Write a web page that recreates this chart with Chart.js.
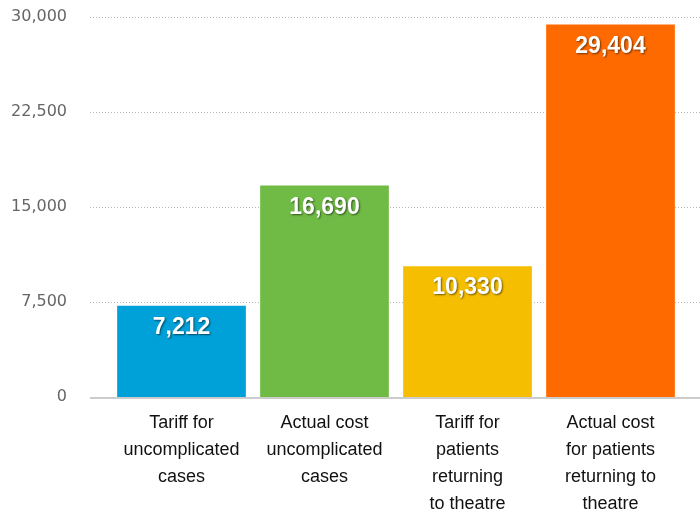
<!DOCTYPE html>
<html>
<head>
<meta charset="utf-8">
<script src="https://cdn.jsdelivr.net/npm/chart.js@4"></script>
<style>
    body { margin: 0; background: #fff; }
</style>
</head>
<body>
<canvas id="grafico" width="700" height="516"></canvas>
<script>
const categorias = [
    ['Tariff for', 'uncomplicated', 'cases'],
    ['Actual cost', 'uncomplicated', 'cases'],
    ['Tariff for', 'patients', 'returning', 'to theatre'],
    ['Actual cost', 'for patients', 'returning to', 'theatre']
];
const valores = [7212, 16690, 10330, 29404];
const cores = ['#00a0d8', '#70bb45', '#f5be00', '#ff6a00'];
const ticksY = [0, 7500, 15000, 22500, 30000];

// linhas de grade pontilhadas que passam um pouco além da área das barras
const gradePlugin = {
    id: 'grade',
    beforeDatasetsDraw(chart) {
        const ctx = chart.ctx;
        const y = chart.scales.y;
        const esq = chart.chartArea.left - 20;
        const dir = chart.width;
        ctx.save();
        ctx.strokeStyle = '#b8b8b8';
        ctx.lineWidth = 1;
        ctx.setLineDash([1, 2]);
        ticksY.forEach(v => {
            if (v === 0) return;
            const py = Math.round(y.getPixelForValue(v)) + 0.5;
            ctx.beginPath();
            ctx.moveTo(esq, py);
            ctx.lineTo(dir, py);
            ctx.stroke();
        });
        ctx.restore();
    },
    afterDatasetsDraw(chart) {
        const ctx = chart.ctx;
        const y = chart.scales.y;
        const py = y.getPixelForValue(0) + 1;
        ctx.save();
        ctx.strokeStyle = '#cccccc';
        ctx.lineWidth = 2;
        ctx.beginPath();
        ctx.moveTo(chart.chartArea.left - 20, py);
        ctx.lineTo(chart.width, py);
        ctx.stroke();
        ctx.restore();
    }
};

// rótulos brancos dentro das barras
const rotulosPlugin = {
    id: 'rotulos',
    afterDatasetsDraw(chart) {
        const ctx = chart.ctx;
        const meta = chart.getDatasetMeta(0);
        ctx.save();
        ctx.font = 'bold 23px "Liberation Sans", Arial, sans-serif';
        ctx.textAlign = 'center';
        ctx.textBaseline = 'middle';
        ctx.fillStyle = '#ffffff';
        ctx.shadowColor = 'rgba(0,0,0,0.55)';
        ctx.shadowOffsetX = 1;
        ctx.shadowOffsetY = 1;
        ctx.shadowBlur = 2;
        meta.data.forEach((bar, i) => {
            ctx.fillText(valores[i].toLocaleString('en-US'), bar.x, bar.y + 22);
        });
        ctx.restore();
    }
};

new Chart(document.getElementById('grafico').getContext('2d'), {
    type: 'bar',
    data: {
        labels: categorias,
        datasets: [{
            data: valores,
            backgroundColor: cores,
            borderWidth: 0,
            categoryPercentage: 1,
            barPercentage: 0.9
        }]
    },
    options: {
        responsive: false,
        animation: false,
        layout: { padding: { top: 17, right: 18, left: 0, bottom: 0 } },
        plugins: { legend: { display: false }, tooltip: { enabled: false } },
        scales: {
            x: {
                grid: { display: false },
                border: { display: false },
                afterFit: s => { s.height = 119; },
                ticks: {
                    color: '#111',
                    padding: 5,
                    maxRotation: 0,
                    autoSkip: false,
                    font: { family: '"Liberation Sans", Arial, sans-serif', size: 18, lineHeight: 1.5 }
                }
            },
            y: {
                min: 0,
                max: 30000,
                grid: { display: false, drawTicks: false },
                border: { display: false },
                afterFit: s => { s.width = 110; s.paddingTop = 0; s.paddingBottom = 0; },
                afterBuildTicks: s => { s.ticks = ticksY.map(v => ({ value: v })); },
                ticks: {
                    color: '#666',
                    padding: 43,
                    font: { family: '"DejaVu Sans", sans-serif', size: 16 },
                    callback: v => v.toLocaleString('en-US')
                }
            }
        }
    },
    plugins: [gradePlugin, rotulosPlugin]
});
</script>
</body>
</html>
